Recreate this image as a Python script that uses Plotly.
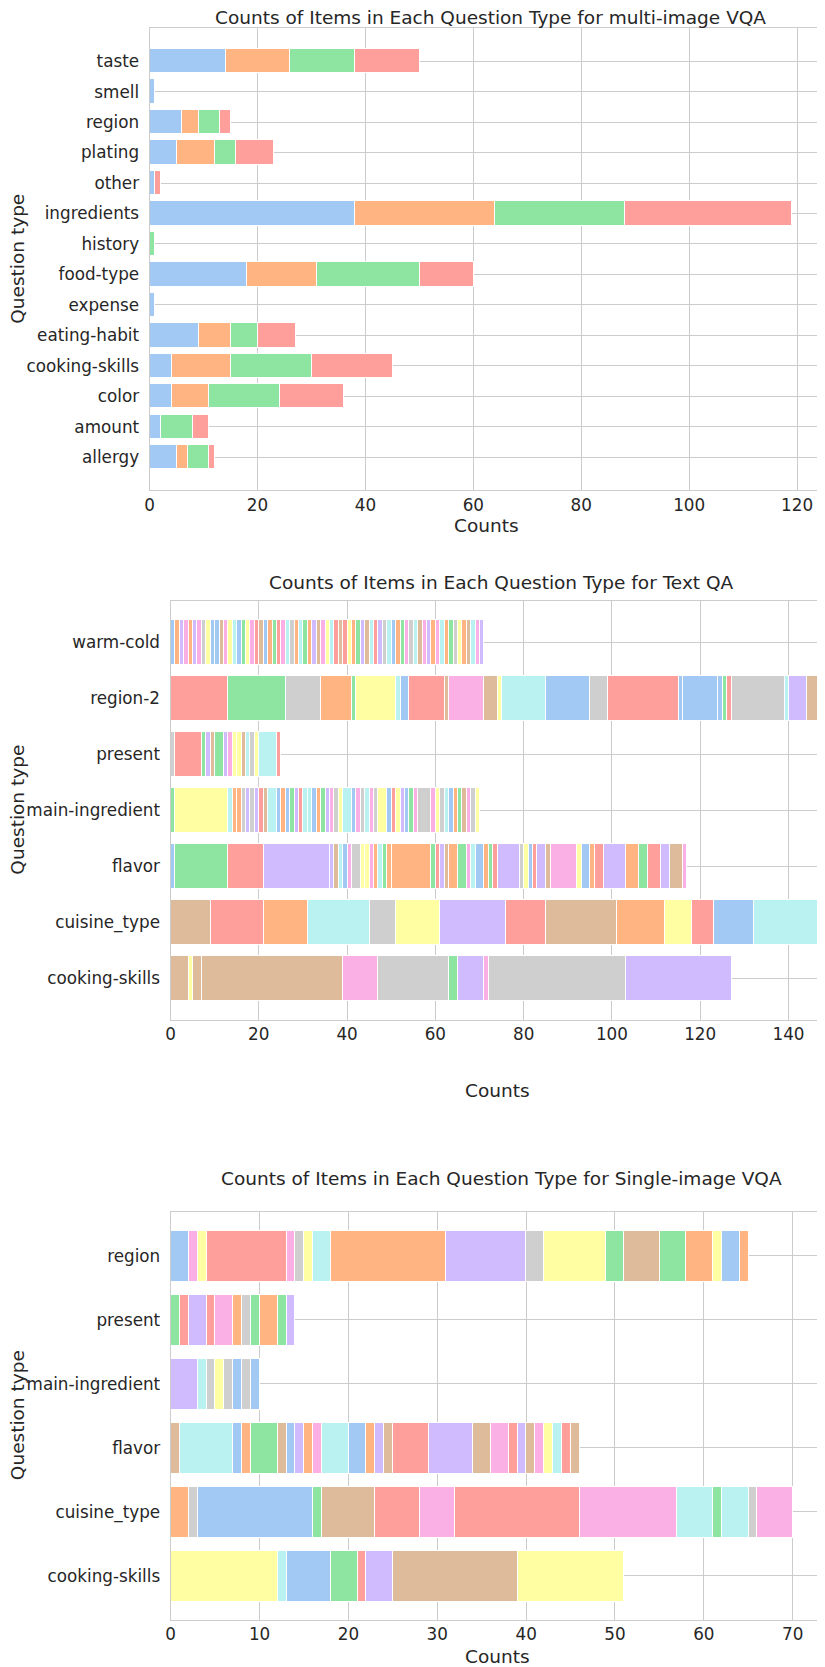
import plotly.graph_objects as go

# ---------------- palette (seaborn "pastel") ----------------
PALETTE = ["#a1c9f4", "#ffb482", "#8de5a1", "#ff9f9b", "#d0bbff",
           "#debb9b", "#fab0e4", "#cfcfcf", "#fffea3", "#b9f2f0"]

# ---------------- panel 1: multi-image VQA ----------------
MI_CATEGORIES = ["allergy", "amount", "color", "cooking-skills", "eating-habit", "expense",
                 "food-type", "history", "ingredients", "other", "plating", "region", "smell", "taste"]
MI_SERIES_1 = [5, 2, 4, 4, 9, 1, 18, 0, 38, 1, 5, 6, 1, 14]
MI_SERIES_2 = [2, 0, 7, 11, 6, 0, 13, 0, 26, 0, 7, 3, 0, 12]
MI_SERIES_3 = [4, 6, 13, 15, 5, 0, 19, 1, 24, 0, 4, 4, 0, 12]
MI_SERIES_4 = [1, 3, 12, 15, 7, 0, 10, 0, 31, 1, 7, 2, 0, 12]

# ---------------- panel 2: Text QA (segments per row, slot = sub-category colour slot) ----------------
TQ_CATEGORIES = ["cooking-skills", "cuisine_type", "flavor", "main-ingredient", "present", "region-2", "warm-cold"]

TQ_COOKING_VALS = [4, 1, 2, 32, 8, 16, 2, 6, 1, 31, 24]
TQ_COOKING_SLOTS = [5, 8, 5, 5, 6, 7, 2, 4, 6, 7, 4]

TQ_CUISINE_VALS = [9, 12, 10, 14, 6, 10, 15, 9, 16, 11, 6, 5, 9, 15]
TQ_CUISINE_SLOTS = [5, 3, 1, 9, 7, 8, 4, 3, 5, 1, 8, 3, 0, 9]

TQ_FLAVOR_VALS = [1, 12, 8, 15, 1, 1, 1, 1, 1, 2, 1, 1, 1, 1, 1, 1, 1, 9, 1, 1, 1, 1, 2, 2, 1,
                  1, 2, 1, 1, 1, 5, 1, 1, 1, 1, 2, 1, 6, 1, 2, 1, 2, 5, 3, 2, 3, 2, 3, 1]
TQ_FLAVOR_SLOTS = [0, 2, 3, 4, 4, 5, 9, 0, 6, 7, 8, 8, 6, 1, 9, 2, 1, 1, 2, 3, 4, 5, 1, 2, 6,
                   9, 0, 1, 2, 3, 4, 7, 8, 0, 3, 4, 5, 6, 8, 0, 1, 3, 4, 1, 2, 3, 4, 5, 6]

TQ_MAIN_VALS = [1, 12, 1, 1, 1, 1, 1, 1, 1, 1, 1, 2, 1, 1, 1, 1, 1, 1, 1, 1, 1, 1, 1, 1, 1, 1, 1,
                2, 1, 1, 1, 1, 1, 1, 2, 1, 1, 1, 1, 1, 1, 1, 3, 1, 1, 1, 1, 1, 1, 1, 1, 1, 1, 1]
TQ_MAIN_SLOTS = [2, 8, 9, 1, 1, 7, 4, 7, 4, 3, 5, 9, 0, 1, 0, 2, 4, 3, 9, 9, 0, 1, 2, 4, 6, 7, 8,
                 9, 0, 6, 7, 9, 6, 7, 8, 0, 3, 8, 4, 0, 2, 6, 7, 6, 8, 7, 9, 0, 1, 2, 5, 6, 7, 8]

TQ_PRESENT_VALS = [1, 6, 1, 1, 1, 2, 1, 1, 1, 1, 1, 1, 1, 1, 4, 1]
TQ_PRESENT_SLOTS = [7, 3, 2, 4, 5, 2, 4, 6, 8, 8, 5, 9, 7, 8, 9, 3]

TQ_REGION2_VALS = [13, 13, 8, 7, 1, 9, 1, 2, 8, 1, 8, 3, 1, 10, 10, 4, 16, 1, 8, 1, 1, 1, 12, 1, 4, 3, 1, 2]
TQ_REGION2_SLOTS = [3, 2, 7, 1, 2, 8, 9, 0, 3, 5, 6, 5, 8, 9, 0, 7, 3, 0, 0, 0, 2, 3, 7, 9, 4, 5, 2, 6]

TQ_WARMCOLD_VALS = [1] * 71
TQ_WARMCOLD_SLOTS = [0, 1, 4, 6, 1, 4, 6, 7, 8, 0, 0, 5, 6, 8, 9, 0, 2, 8, 6, 3, 5, 0, 1, 2, 3, 6,
                     9, 7, 1, 9, 2, 1, 4, 5, 6, 8, 9, 3, 5, 3, 8, 1, 2, 4, 5, 9, 3, 4, 7, 9, 0, 1,
                     2, 6, 7, 9, 5, 6, 4, 1, 6, 9, 1, 2, 7, 8, 1, 5, 9, 6, 4]

# ---------------- panel 3: Single-image VQA ----------------
SI_CATEGORIES = ["cooking-skills", "cuisine_type", "flavor", "main-ingredient", "present", "region"]

SI_COOKING_VALS = [12, 1, 5, 3, 1, 3, 14, 12]
SI_COOKING_SLOTS = [8, 9, 0, 2, 3, 4, 5, 8]

SI_CUISINE_VALS = [2, 1, 13, 1, 6, 5, 4, 14, 11, 4, 1, 3, 1, 4]
SI_CUISINE_SLOTS = [1, 7, 0, 2, 5, 3, 6, 3, 6, 9, 2, 9, 7, 6]

SI_FLAVOR_VALS = [1, 6, 1, 1, 3, 1, 1, 1, 1, 1, 3, 2, 1, 1, 1, 4, 5, 2, 2, 1, 1, 1, 1, 1, 1, 1, 1]
SI_FLAVOR_SLOTS = [5, 9, 0, 1, 2, 5, 0, 4, 1, 6, 9, 0, 1, 4, 5, 3, 4, 5, 6, 3, 4, 5, 6, 8, 9, 3, 5]

SI_MAIN_VALS = [3, 1, 1, 1, 1, 1, 1, 1]
SI_MAIN_SLOTS = [4, 9, 7, 8, 7, 0, 7, 0]

SI_PRESENT_VALS = [1, 1, 2, 1, 2, 1, 1, 1, 2, 1, 1]
SI_PRESENT_SLOTS = [2, 3, 4, 3, 6, 1, 7, 2, 1, 2, 4]

SI_REGION_VALS = [2, 1, 1, 9, 1, 1, 1, 2, 13, 9, 2, 7, 2, 4, 3, 3, 1, 2, 1]
SI_REGION_SLOTS = [0, 6, 8, 3, 6, 7, 8, 9, 1, 4, 7, 8, 2, 5, 2, 1, 8, 0, 1]

TITLES = ["Counts of Items in Each Question Type for multi-image VQA",
          "Counts of Items in Each Question Type for Text QA",
          "Counts of Items in Each Question Type for Single-image VQA"]

# ---------------- layout geometry (page pixels; page body has an 8px margin) ----------------
OFF = 8
W, H = 825 - OFF, 1667 - OFF
FONT = "DejaVu Sans"
TXT = "#262626"
GRID = "#cccccc"

def px_x(p):
    return (p - OFF) / W

def px_y(p):
    return 1 - (p - OFF) / H

fig = go.Figure()

edge = dict(color="white", width=1)

# panel 1 (4 stacked series)
for vals, slot in zip([MI_SERIES_1, MI_SERIES_2, MI_SERIES_3, MI_SERIES_4], [0, 1, 2, 3]):
    fig.add_trace(go.Bar(x=vals, y=MI_CATEGORIES, orientation="h", width=0.8,
                         marker=dict(color=PALETTE[slot], line=edge),
                         xaxis="x", yaxis="y", showlegend=False))

def add_rows(rows, xa, ya):
    for cat, vals, slots in rows:
        for v, s in zip(vals, slots):
            fig.add_trace(go.Bar(x=[v], y=[cat], orientation="h", width=0.8,
                                 marker=dict(color=PALETTE[s], line=edge),
                                 xaxis=xa, yaxis=ya, showlegend=False))

add_rows([
    ("cooking-skills", TQ_COOKING_VALS, TQ_COOKING_SLOTS),
    ("cuisine_type", TQ_CUISINE_VALS, TQ_CUISINE_SLOTS),
    ("flavor", TQ_FLAVOR_VALS, TQ_FLAVOR_SLOTS),
    ("main-ingredient", TQ_MAIN_VALS, TQ_MAIN_SLOTS),
    ("present", TQ_PRESENT_VALS, TQ_PRESENT_SLOTS),
    ("region-2", TQ_REGION2_VALS, TQ_REGION2_SLOTS),
    ("warm-cold", TQ_WARMCOLD_VALS, TQ_WARMCOLD_SLOTS),
], "x2", "y2")

add_rows([
    ("cooking-skills", SI_COOKING_VALS, SI_COOKING_SLOTS),
    ("cuisine_type", SI_CUISINE_VALS, SI_CUISINE_SLOTS),
    ("flavor", SI_FLAVOR_VALS, SI_FLAVOR_SLOTS),
    ("main-ingredient", SI_MAIN_VALS, SI_MAIN_SLOTS),
    ("present", SI_PRESENT_VALS, SI_PRESENT_SLOTS),
    ("region", SI_REGION_VALS, SI_REGION_SLOTS),
], "x3", "y3")

# axes geometry: (left, right, top, bottom) px, x-range, dtick, categories
panels = [
    (149.6, 823.8, 28.0, 490.4, [0, 124.95], 20, MI_CATEGORIES),
    (170.5, 823.8, 600.7, 1019.6, [0, 148.0], 20, TQ_CATEGORIES),
    (170.7, 823.8, 1211.5, 1619.8, [0, 73.5], 10, SI_CATEGORIES),
]
title_y = [17, 582, 1178]
xlabel_y = [525, 1090, 1656]

axis_common = dict(showline=True, mirror=True, linecolor=GRID, linewidth=1.25,
                   showgrid=True, gridcolor=GRID, gridwidth=1, zeroline=False,
                   ticks="", automargin=False,
                   tickfont=dict(family=FONT, size=16.8, color=TXT))

annotations = []
for i, (l, r, t, b, xr, dt, cats) in enumerate(panels):
    sfx = "" if i == 0 else str(i + 1)
    n = len(cats)
    pad = 0.05 * (n - 1 + 0.8)
    fig.update_layout(**{
        "xaxis" + sfx: dict(domain=[px_x(l), px_x(r)], range=xr, dtick=dt, tick0=0,
                            anchor="y" + sfx, ticklabelstandoff=-1, **axis_common),
        "yaxis" + sfx: dict(domain=[px_y(b), px_y(t)], type="category",
                            categoryorder="array", categoryarray=cats,
                            range=[-0.4 - pad, n - 1 + 0.4 + pad],
                            anchor="x" + sfx, ticklabelstandoff=6, **axis_common),
    })
    cx = (l + r) / 2
    annotations.append(dict(text=TITLES[i], x=px_x(cx + 4), y=px_y(title_y[i]), xref="paper", yref="paper",
                            showarrow=False, xanchor="center", yanchor="middle",
                            font=dict(family=FONT, size=18.5, color=TXT)))
    annotations.append(dict(text="Counts", x=px_x(cx), y=px_y(xlabel_y[i]), xref="paper", yref="paper",
                            showarrow=False, xanchor="center", yanchor="middle",
                            font=dict(family=FONT, size=18.5, color=TXT)))
    annotations.append(dict(text="Question type", x=px_x(17.5), y=px_y((t + b) / 2), xref="paper", yref="paper",
                            showarrow=False, xanchor="center", yanchor="middle", textangle=-90,
                            font=dict(family=FONT, size=18.5, color=TXT)))

fig.update_layout(width=W, height=H, barmode="stack", bargap=0,
                  margin=dict(l=0, r=0, t=0, b=0, autoexpand=False),
                  paper_bgcolor="white", plot_bgcolor="white",
                  annotations=annotations, showlegend=False)

fig.write_html("out.html")
